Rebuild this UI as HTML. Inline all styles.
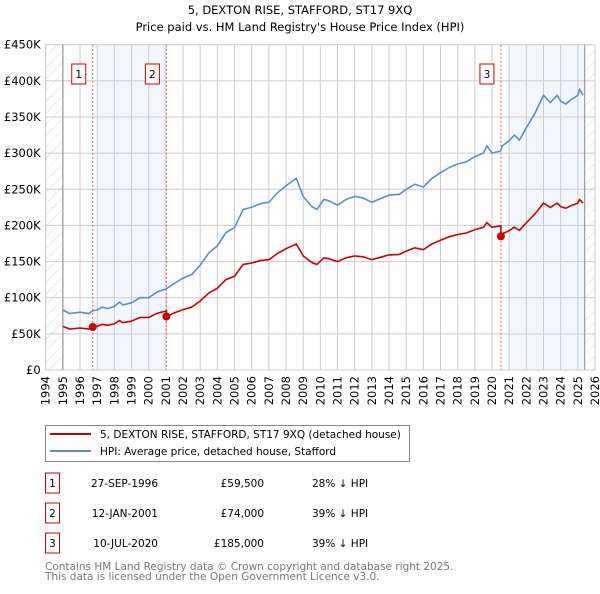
<!DOCTYPE html>
<html><head><meta charset="utf-8"><style>
body{margin:0;background:#fff;font-family:"DejaVu Sans","Liberation Sans",sans-serif;}
svg text{font-family:"DejaVu Sans","Liberation Sans",sans-serif;}
</style></head><body>
<svg id="c" width="600" height="590" viewBox="0 0 600 590" xmlns="http://www.w3.org/2000/svg">
<defs><pattern id="hatch" width="8" height="8" patternUnits="userSpaceOnUse" patternTransform="rotate(45)"><line x1="0" y1="0" x2="0" y2="8" stroke="#ddd" stroke-width="1"/></pattern></defs>
<text x="300" y="14" text-anchor="middle" font-size="11.5">5, DEXTON RISE, STAFFORD, ST17 9XQ</text>
<text x="300" y="31" text-anchor="middle" font-size="11.5">Price paid vs. HM Land Registry's House Price Index (HPI)</text>
<g id="plot"></g>
<g>
<rect x="45.5" y="425.5" width="364" height="36" fill="#fff" stroke="#888"/>
<line x1="50" y1="434" x2="91" y2="434" stroke="#cc0000" stroke-width="2"/>
<text x="100" y="438" font-size="10.5">5, DEXTON RISE, STAFFORD, ST17 9XQ (detached house)</text>
<line x1="50" y1="451" x2="91" y2="451" stroke="#5b8ccc" stroke-width="2"/>
<text x="100" y="455" font-size="10.5">HPI: Average price, detached house, Stafford</text>
</g>
<g id="table" font-size="10.5"></g>
<text x="45" y="570" font-size="10.5" fill="#777">Contains HM Land Registry data © Crown copyright and database right 2025.</text>
<text x="45" y="580" font-size="10.5" fill="#777">This data is licensed under the Open Government Licence v3.0.</text>
</svg>
<script>
const hpiT=[1995,1995.4,1996,1996.5,1996.75,1997,1997.3,1997.6,1998,1998.3,1998.5,1999,1999.5,2000,2000.5,2001,2001.5,2002,2002.5,2003,2003.5,2004,2004.5,2005,2005.5,2006,2006.5,2007,2007.5,2008,2008.6,2009,2009.5,2009.8,2010.2,2010.5,2011,2011.5,2012,2012.5,2013,2013.5,2014,2014.6,2015,2015.5,2016,2016.5,2017,2017.5,2018,2018.5,2019,2019.5,2019.7,2020,2020.5,2020.6,2021,2021.3,2021.6,2022,2022.5,2023,2023.4,2023.8,2024,2024.3,2024.6,2025,2025.1,2025.3];
const hpiV=[83,78,80,78,82,83,87,85,88,94,90,93,100,100,108,112,120,127,132,145,162,172,190,197,222,225,230,232,245,255,265,240,226,222,236,234,228,236,240,238,232,237,242,243,250,257,253,265,273,280,285,288,295,300,310,300,303,310,317,325,318,335,355,380,370,380,372,368,374,380,388,380];
const saleT=[1996.74,2001.03,2020.52];
const saleV=[59.5,74,185];
const saleLabels=["1","2","3"];
const saleDates=["27-SEP-1996","12-JAN-2001","10-JUL-2020"];
const salePrices=["£59,500","£74,000","£185,000"];
const salePct=["28% ↓ HPI","39% ↓ HPI","39% ↓ HPI"];
const yTicks=[0,50,100,150,200,250,300,350,400,450];
const yTickLabels=["£0","£50K","£100K","£150K","£200K","£250K","£300K","£350K","£400K","£450K"];
const xYears=[1994,1995,1996,1997,1998,1999,2000,2001,2002,2003,2004,2005,2006,2007,2008,2009,2010,2011,2012,2013,2014,2015,2016,2017,2018,2019,2020,2021,2022,2023,2024,2025,2026];

const NS="http://www.w3.org/2000/svg";
const X0=45.7,X1=595,Y0=370,Y1=44.7;
const xs=t=>X0+(t-1994)/(2026-1994)*(X1-X0);
const ys=v=>Y0-v/450*(Y0-Y1);
const plot=document.getElementById('plot');
function mk(tag,at,parent){const e=document.createElementNS(NS,tag);for(const k in at)e.setAttribute(k,at[k]);(parent||plot).appendChild(e);return e;}
function hpiAt(t){for(let i=1;i<hpiT.length;i++){if(t<=hpiT[i]){const f=(t-hpiT[i-1])/(hpiT[i]-hpiT[i-1]);return hpiV[i-1]+f*(hpiV[i]-hpiV[i-1]);}}return hpiV[hpiV.length-1];}
let e=mk('rect',{x:xs(1997),y:Y1,width:xs(2001.03)-xs(1997),height:Y0-Y1,fill:'#f2f6fd'});

e=mk('rect',{x:xs(2021),y:Y1,width:xs(2025.4)-xs(2021),height:Y0-Y1,fill:'#f2f6fd'});

e=mk('rect',{x:X0,y:Y1,width:xs(1995)-X0,height:Y0-Y1,fill:'url(#hatch)'});

e=mk('rect',{x:xs(2025.4),y:Y1,width:X1-xs(2025.4),height:Y0-Y1,fill:'url(#hatch)'});

yTicks.forEach((v,i)=>{
 const g=mk('line',{x1:X0,x2:X1,y1:ys(v),y2:ys(v),stroke:'#ccc','stroke-width':1});
 
 const t=mk('text',{x:X0-5,y:ys(v)+4,'text-anchor':'end','font-size':11.5});t.textContent=yTickLabels[i];
 
});
xYears.forEach(y=>{
 const g=mk('line',{x1:xs(y),x2:xs(y),y1:Y1,y2:Y0,stroke:'#ccc','stroke-width':1});
 
 const t=mk('text',{x:0,y:0,'font-size':11.5,'text-anchor':'end',transform:`translate(${xs(y)+4},${Y0+6}) rotate(-90)`});t.textContent=y;
 
});
e=mk('line',{x1:xs(1995),x2:xs(1995),y1:Y1,y2:Y0,stroke:'#888'});
e=mk('line',{x1:xs(2025.4),x2:xs(2025.4),y1:Y1,y2:Y0,stroke:'#888'});
saleT.forEach((t,i)=>{
 const l=mk('line',{x1:xs(t),x2:xs(t),y1:Y1,y2:Y0,stroke:'#e55','stroke-dasharray':'2,2','stroke-width':1});
 
 const r=mk('rect',{x:xs(t)-21,y:64,width:14,height:20,fill:'#fff',stroke:'#cc0000'});
 
 const tx=mk('text',{x:xs(t)-14,y:78,'text-anchor':'middle','font-size':10.5});tx.textContent=saleLabels[i];
 
});
let d=hpiT.map((t,i)=>(i?'L':'M')+xs(t).toFixed(1)+','+ys(hpiV[i]).toFixed(1)).join('');
e=mk('path',{d:d,fill:'none',stroke:'#5b8ccc','stroke-width':1.6});

function ratioAt(t){let k=0;for(let i=0;i<saleT.length;i++)if(t>=saleT[i])k=i;return saleV[k]/hpiAt(saleT[k]);}
const pts=[];
hpiT.forEach((t,i)=>{
 saleT.forEach(s=>{if(i>0&&hpiT[i-1]<s&&t>=s){pts.push([s,hpiAt(s)*ratioAt(s-1e-6)]);pts.push([s,hpiAt(s)*ratioAt(s)]);}});
 pts.push([t,hpiV[i]*ratioAt(t)]);
});
d=pts.map((p,i)=>(i?'L':'M')+xs(p[0]).toFixed(1)+','+ys(p[1]).toFixed(1)).join('');
e=mk('path',{d:d,fill:'none',stroke:'#cc0000','stroke-width':1.6});

saleT.forEach((t,i)=>{
 const c=mk('circle',{cx:xs(t),cy:ys(saleV[i]),r:4,fill:'#cc0000'});
 
});
e=mk('line',{x1:X0,x2:X0,y1:Y1,y2:Y0,stroke:'#ccc'});
const tb=document.getElementById('table');
saleT.forEach((t,i)=>{
 const cy=483+i*30;
 const r=mk('rect',{x:45.5,y:cy-10,width:14,height:20,fill:'#fff',stroke:'#cc0000'},tb);
 
 const a=mk('text',{x:52.5,y:cy+4,'text-anchor':'middle'},tb);a.textContent=saleLabels[i];
 
 const b=mk('text',{x:158,y:cy+4,'text-anchor':'end'},tb);b.textContent=saleDates[i];
 
 const c=mk('text',{x:264,y:cy+4,'text-anchor':'end'},tb);c.textContent=salePrices[i];
 
 const f=mk('text',{x:312,y:cy+4},tb);f.textContent=salePct[i];
 
});
</script>
</body></html>
